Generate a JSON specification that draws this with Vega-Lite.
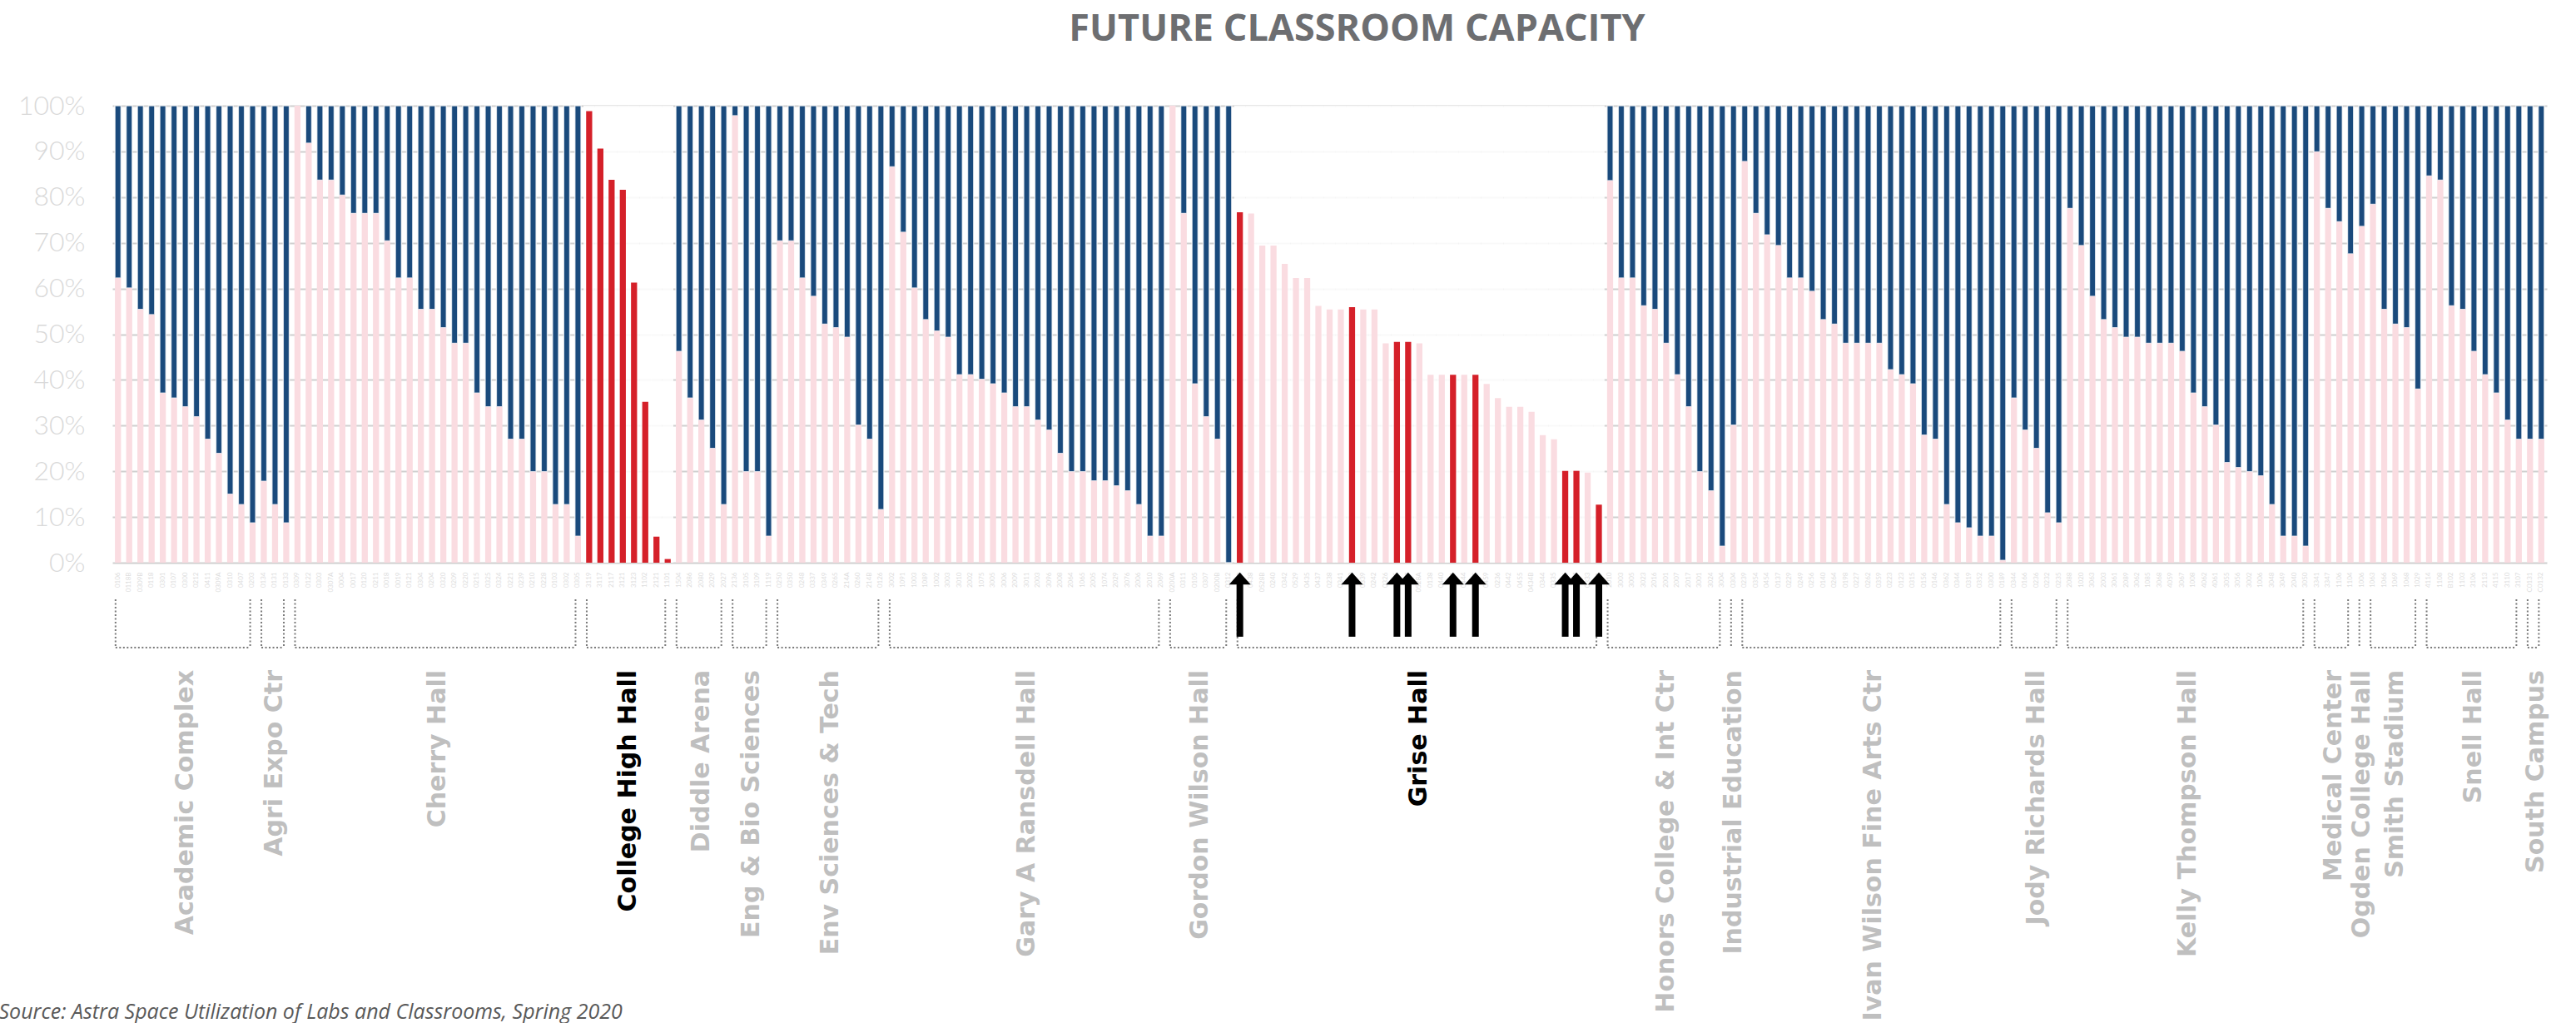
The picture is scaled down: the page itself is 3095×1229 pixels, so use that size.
{
 "$schema": "https://vega.github.io/schema/vega-lite/v6.json",
 "width": 2925,
 "height": 549,
 "autosize": {"type": "none"},
 "padding": {"left": 135, "top": 127, "right": 35, "bottom": 553},
 "background": "white",
 "config": {"view": {"stroke": null}},
 "title": {"text": "FUTURE CLASSROOM CAPACITY", "font": "Open Sans", "fontSize": 45, "fontWeight": "bold", "color": "#6D6E71", "anchor": "middle", "frame": "group", "dx": 33, "offset": 17, "baseline": "alphabetic"},
 "data": {"values": [
  {"b":"Academic Complex","r":"0106","v":0.623},{"b":"Academic Complex","r":"0118B","v":0.601},{"b":"Academic Complex","r":"0309B","v":0.554},{"b":"Academic Complex","r":"0118","v":0.543},{"b":"Academic Complex","r":"0301","v":0.371},{"b":"Academic Complex","r":"0107","v":0.36},{"b":"Academic Complex","r":"0300","v":0.341},{"b":"Academic Complex","r":"0212","v":0.319},{"b":"Academic Complex","r":"0411","v":0.27},{"b":"Academic Complex","r":"0309A","v":0.239},{"b":"Academic Complex","r":"0310","v":0.15},{"b":"Academic Complex","r":"0407","v":0.127},{"b":"Academic Complex","r":"0203","v":0.087},
  {"b":"Agri Expo Ctr","r":"0134","v":0.178},{"b":"Agri Expo Ctr","r":"0131","v":0.127},{"b":"Agri Expo Ctr","r":"0133","v":0.087},
  {"b":"Cherry Hall","r":"0309","v":1.0},{"b":"Cherry Hall","r":"0122","v":0.918},{"b":"Cherry Hall","r":"0303","v":0.837},{"b":"Cherry Hall","r":"0307A","v":0.837},{"b":"Cherry Hall","r":"0004","v":0.804},{"b":"Cherry Hall","r":"0017","v":0.764},{"b":"Cherry Hall","r":"0120","v":0.764},{"b":"Cherry Hall","r":"0211","v":0.764},{"b":"Cherry Hall","r":"0018","v":0.704},{"b":"Cherry Hall","r":"0019","v":0.623},{"b":"Cherry Hall","r":"0121","v":0.623},{"b":"Cherry Hall","r":"0304","v":0.554},{"b":"Cherry Hall","r":"0204","v":0.554},{"b":"Cherry Hall","r":"0320","v":0.514},{"b":"Cherry Hall","r":"0209","v":0.48},{"b":"Cherry Hall","r":"0220","v":0.48},{"b":"Cherry Hall","r":"0215","v":0.371},{"b":"Cherry Hall","r":"0325","v":0.341},{"b":"Cherry Hall","r":"0324","v":0.341},{"b":"Cherry Hall","r":"0221","v":0.27},{"b":"Cherry Hall","r":"0239","v":0.27},{"b":"Cherry Hall","r":"0210","v":0.199},{"b":"Cherry Hall","r":"0228","v":0.199},{"b":"Cherry Hall","r":"0103","v":0.127},{"b":"Cherry Hall","r":"0302","v":0.127},{"b":"Cherry Hall","r":"0305","v":0.058},
  {"b":"College High Hall","r":"3119","v":0.988},{"b":"College High Hall","r":"3117","v":0.906},{"b":"College High Hall","r":"2117","v":0.838},{"b":"College High Hall","r":"3121","v":0.816},{"b":"College High Hall","r":"3123","v":0.613},{"b":"College High Hall","r":"1102","v":0.352},{"b":"College High Hall","r":"2121","v":0.057},{"b":"College High Hall","r":"1101","v":0.008},
  {"b":"Diddle Arena","r":"1504","v":0.462},{"b":"Diddle Arena","r":"2086","v":0.36},{"b":"Diddle Arena","r":"2080","v":0.312},{"b":"Diddle Arena","r":"2029","v":0.25},{"b":"Diddle Arena","r":"2027","v":0.127},
  {"b":"Eng & Bio Sciences","r":"2136","v":0.978},{"b":"Eng & Bio Sciences","r":"3105","v":0.199},{"b":"Eng & Bio Sciences","r":"3109","v":0.199},{"b":"Eng & Bio Sciences","r":"1119","v":0.058},
  {"b":"Env Sciences & Tech","r":"0250","v":0.704},{"b":"Env Sciences & Tech","r":"0350","v":0.704},{"b":"Env Sciences & Tech","r":"0248","v":0.623},{"b":"Env Sciences & Tech","r":"0337","v":0.583},{"b":"Env Sciences & Tech","r":"0349","v":0.522},{"b":"Env Sciences & Tech","r":"0265","v":0.514},{"b":"Env Sciences & Tech","r":"214A","v":0.493},{"b":"Env Sciences & Tech","r":"0260","v":0.301},{"b":"Env Sciences & Tech","r":"214B","v":0.27},{"b":"Env Sciences & Tech","r":"0126","v":0.116},
  {"b":"Gary A Ransdell Hall","r":"3002","v":0.866},{"b":"Gary A Ransdell Hall","r":"1091","v":0.723},{"b":"Gary A Ransdell Hall","r":"1003","v":0.601},{"b":"Gary A Ransdell Hall","r":"1089","v":0.532},{"b":"Gary A Ransdell Hall","r":"1002","v":0.507},{"b":"Gary A Ransdell Hall","r":"3003","v":0.493},{"b":"Gary A Ransdell Hall","r":"3010","v":0.411},{"b":"Gary A Ransdell Hall","r":"2002","v":0.411},{"b":"Gary A Ransdell Hall","r":"1075","v":0.401},{"b":"Gary A Ransdell Hall","r":"3005","v":0.391},{"b":"Gary A Ransdell Hall","r":"3006","v":0.371},{"b":"Gary A Ransdell Hall","r":"2009","v":0.341},{"b":"Gary A Ransdell Hall","r":"3011","v":0.341},{"b":"Gary A Ransdell Hall","r":"2003","v":0.312},{"b":"Gary A Ransdell Hall","r":"3096","v":0.29},{"b":"Gary A Ransdell Hall","r":"2008","v":0.239},{"b":"Gary A Ransdell Hall","r":"2064","v":0.199},{"b":"Gary A Ransdell Hall","r":"1065","v":0.199},{"b":"Gary A Ransdell Hall","r":"2005","v":0.179},{"b":"Gary A Ransdell Hall","r":"1074","v":0.179},{"b":"Gary A Ransdell Hall","r":"2029","v":0.168},{"b":"Gary A Ransdell Hall","r":"3076","v":0.157},{"b":"Gary A Ransdell Hall","r":"2006","v":0.127},{"b":"Gary A Ransdell Hall","r":"2010","v":0.058},{"b":"Gary A Ransdell Hall","r":"2069","v":0.058},
  {"b":"Gordon Wilson Hall","r":"0200A","v":1.0},{"b":"Gordon Wilson Hall","r":"0311","v":0.764},{"b":"Gordon Wilson Hall","r":"0105","v":0.391},{"b":"Gordon Wilson Hall","r":"0307","v":0.319},{"b":"Gordon Wilson Hall","r":"0200B","v":0.27},{"b":"Gordon Wilson Hall","r":"0312","v":0.0},
  {"b":"Grise Hall","r":"0130","v":0.767,"f":1},{"b":"Grise Hall","r":"0438","v":0.764},{"b":"Grise Hall","r":"0528B","v":0.694},{"b":"Grise Hall","r":"0240","v":0.694},{"b":"Grise Hall","r":"0342","v":0.654},{"b":"Grise Hall","r":"0529","v":0.623},{"b":"Grise Hall","r":"0435","v":0.623},{"b":"Grise Hall","r":"0437","v":0.562},{"b":"Grise Hall","r":"0238","v":0.554},{"b":"Grise Hall","r":"0341","v":0.554},{"b":"Grise Hall","r":"0340","v":0.559,"f":1},{"b":"Grise Hall","r":"0339","v":0.554},{"b":"Grise Hall","r":"0242","v":0.554},{"b":"Grise Hall","r":"0326","v":0.48},{"b":"Grise Hall","r":"0325","v":0.483,"f":1},{"b":"Grise Hall","r":"0327","v":0.483,"f":1},{"b":"Grise Hall","r":"0528A","v":0.48},{"b":"Grise Hall","r":"0138","v":0.411},{"b":"Grise Hall","r":"0440","v":0.411},{"b":"Grise Hall","r":"0441","v":0.411,"f":1},{"b":"Grise Hall","r":"0444","v":0.411},{"b":"Grise Hall","r":"0445","v":0.411,"f":1},{"b":"Grise Hall","r":"0459","v":0.391},{"b":"Grise Hall","r":"0236","v":0.36},{"b":"Grise Hall","r":"0442","v":0.341},{"b":"Grise Hall","r":"0455","v":0.341},{"b":"Grise Hall","r":"0434B","v":0.33},{"b":"Grise Hall","r":"0344","v":0.279},{"b":"Grise Hall","r":"0335","v":0.27},{"b":"Grise Hall","r":"0336","v":0.201,"f":1},{"b":"Grise Hall","r":"0337","v":0.201,"f":1},{"b":"Grise Hall","r":"0333","v":0.197},{"b":"Grise Hall","r":"0331","v":0.127,"f":1},
  {"b":"Honors College & Int Ctr","r":"2010","v":0.836},{"b":"Honors College & Int Ctr","r":"3003","v":0.623},{"b":"Honors College & Int Ctr","r":"3005","v":0.623},{"b":"Honors College & Int Ctr","r":"3023","v":0.562},{"b":"Honors College & Int Ctr","r":"2016","v":0.554},{"b":"Honors College & Int Ctr","r":"2001","v":0.48},{"b":"Honors College & Int Ctr","r":"2007","v":0.411},{"b":"Honors College & Int Ctr","r":"2017","v":0.341},{"b":"Honors College & Int Ctr","r":"3001","v":0.199},{"b":"Honors College & Int Ctr","r":"3024","v":0.157},{"b":"Honors College & Int Ctr","r":"3004","v":0.036},
  {"b":"Industrial Education","r":"0304","v":0.301},
  {"b":"Ivan Wilson Fine Arts Ctr","r":"0239","v":0.878},{"b":"Ivan Wilson Fine Arts Ctr","r":"0354","v":0.764},{"b":"Ivan Wilson Fine Arts Ctr","r":"0454","v":0.717},{"b":"Ivan Wilson Fine Arts Ctr","r":"0137","v":0.694},{"b":"Ivan Wilson Fine Arts Ctr","r":"0229","v":0.623},{"b":"Ivan Wilson Fine Arts Ctr","r":"0249","v":0.623},{"b":"Ivan Wilson Fine Arts Ctr","r":"0256","v":0.594},{"b":"Ivan Wilson Fine Arts Ctr","r":"0140","v":0.532},{"b":"Ivan Wilson Fine Arts Ctr","r":"0264","v":0.522},{"b":"Ivan Wilson Fine Arts Ctr","r":"0198","v":0.48},{"b":"Ivan Wilson Fine Arts Ctr","r":"0227","v":0.48},{"b":"Ivan Wilson Fine Arts Ctr","r":"0262","v":0.48},{"b":"Ivan Wilson Fine Arts Ctr","r":"0359","v":0.48},{"b":"Ivan Wilson Fine Arts Ctr","r":"0223","v":0.422},{"b":"Ivan Wilson Fine Arts Ctr","r":"0123","v":0.411},{"b":"Ivan Wilson Fine Arts Ctr","r":"0315","v":0.391},{"b":"Ivan Wilson Fine Arts Ctr","r":"0156","v":0.279},{"b":"Ivan Wilson Fine Arts Ctr","r":"0146","v":0.27},{"b":"Ivan Wilson Fine Arts Ctr","r":"0362","v":0.127},{"b":"Ivan Wilson Fine Arts Ctr","r":"0344","v":0.087},{"b":"Ivan Wilson Fine Arts Ctr","r":"0319","v":0.076},{"b":"Ivan Wilson Fine Arts Ctr","r":"0352","v":0.058},{"b":"Ivan Wilson Fine Arts Ctr","r":"0300","v":0.058},{"b":"Ivan Wilson Fine Arts Ctr","r":"0189","v":0.005},
  {"b":"Jody Richards Hall","r":"0344","v":0.36},{"b":"Jody Richards Hall","r":"0166","v":0.29},{"b":"Jody Richards Hall","r":"0236","v":0.25},{"b":"Jody Richards Hall","r":"0232","v":0.109},{"b":"Jody Richards Hall","r":"0235","v":0.087},
  {"b":"Kelly Thompson Hall","r":"2088","v":0.775},{"b":"Kelly Thompson Hall","r":"1020","v":0.694},{"b":"Kelly Thompson Hall","r":"3063","v":0.583},{"b":"Kelly Thompson Hall","r":"2003","v":0.532},{"b":"Kelly Thompson Hall","r":"3061","v":0.514},{"b":"Kelly Thompson Hall","r":"2089","v":0.493},{"b":"Kelly Thompson Hall","r":"3062","v":0.493},{"b":"Kelly Thompson Hall","r":"1085","v":0.48},{"b":"Kelly Thompson Hall","r":"3068","v":0.48},{"b":"Kelly Thompson Hall","r":"4059","v":0.48},{"b":"Kelly Thompson Hall","r":"3067","v":0.462},{"b":"Kelly Thompson Hall","r":"1008","v":0.371},{"b":"Kelly Thompson Hall","r":"4062","v":0.341},{"b":"Kelly Thompson Hall","r":"4061","v":0.301},{"b":"Kelly Thompson Hall","r":"3055","v":0.219},{"b":"Kelly Thompson Hall","r":"3056","v":0.208},{"b":"Kelly Thompson Hall","r":"3002","v":0.199},{"b":"Kelly Thompson Hall","r":"1006","v":0.19},{"b":"Kelly Thompson Hall","r":"3048","v":0.127},{"b":"Kelly Thompson Hall","r":"3049","v":0.058},{"b":"Kelly Thompson Hall","r":"2040","v":0.058},{"b":"Kelly Thompson Hall","r":"3050","v":0.036},
  {"b":"Medical Center","r":"3341","v":0.899},{"b":"Medical Center","r":"3347","v":0.775},{"b":"Medical Center","r":"1106","v":0.746},{"b":"Medical Center","r":"1104","v":0.676},
  {"b":"Ogden College Hall","r":"1006","v":0.736},
  {"b":"Smith Stadium","r":"1063","v":0.784},{"b":"Smith Stadium","r":"1066","v":0.554},{"b":"Smith Stadium","r":"1069","v":0.522},{"b":"Smith Stadium","r":"1068","v":0.514},{"b":"Smith Stadium","r":"1029","v":0.38},
  {"b":"Snell Hall","r":"4114","v":0.846},{"b":"Snell Hall","r":"1108","v":0.837},{"b":"Snell Hall","r":"B102","v":0.562},{"b":"Snell Hall","r":"1103","v":0.554},{"b":"Snell Hall","r":"3106","v":0.462},{"b":"Snell Hall","r":"2113","v":0.411},{"b":"Snell Hall","r":"4115","v":0.371},{"b":"Snell Hall","r":"3110","v":0.312},{"b":"Snell Hall","r":"3107","v":0.27},
  {"b":"South Campus","r":"C0131","v":0.27},{"b":"South Campus","r":"C0132","v":0.27}
 ]},
 "transform": [
  {"window": [{"op": "row_number", "as": "i"}]},
  {"calculate": "(1000 + datum.i) + '|' + datum.r", "as": "key"},
  {"window": [{"op": "row_number", "as": "j"}, {"op": "count", "as": "n"}, {"op": "first_value", "field": "key", "as": "fk"}, {"op": "last_value", "field": "key", "as": "lk"}], "groupby": ["b"], "frame": [null, null]}
 ],
 "layer": [
  {
   "transform": [{"filter": "datum.b == 'College High Hall' || datum.b == 'Grise Hall'"}],
   "mark": {"type": "bar", "color": "white", "opacity": 0.88, "width": {"band": 1.87}},
   "encoding": {
    "x": {"field": "key", "type": "nominal", "scale": {"paddingInner": 0.46, "paddingOuter": 0.23}},
    "y": {"datum": 0, "type": "quantitative"},
    "y2": {"datum": 1}
   }
  },
  {
   "transform": [{"filter": "datum.b != 'College High Hall' && datum.b != 'Grise Hall' && datum.v < 1"}],
   "mark": {"type": "bar", "color": "#1A4A7C", "stroke": "#ffffff", "strokeWidth": 1.5, "strokeOpacity": 0.75},
   "encoding": {
    "x": {"field": "key", "type": "nominal"},
    "y": {"field": "v", "type": "quantitative"},
    "y2": {"datum": 1}
   }
  },
  {
   "mark": {"type": "bar"},
   "encoding": {
    "x": {"field": "key", "type": "nominal",
     "axis": {"title": "Source: Astra Space Utilization of Labs and Classrooms, Spring 2020", "titleFont": "Open Sans", "titleFontStyle": "italic", "titleFontWeight": "normal", "titleFontSize": 25, "titleColor": "#595959", "titleAnchor": "start", "titleAlign": "left", "titleBaseline": "alphabetic", "titleX": -137, "titleY": 547,
      "labelExpr": "split(datum.value, '|')[1]", "labelAngle": -90, "labelFontSize": 8, "labelColor": "#DDDDDD", "labelFont": "Lato", "labelPadding": 11, "labelOverlap": false, "ticks": false, "domain": false, "grid": false}},
    "y": {"field": "v", "type": "quantitative", "scale": {"domain": [0, 1], "nice": false, "zero": true},
     "axis": {"values": [0, 0.1, 0.2, 0.3, 0.4, 0.5, 0.6, 0.7, 0.8, 0.9, 1], "format": ".0%", "title": null, "domain": false, "ticks": false, "labelPadding": 33, "labelFontSize": 32, "labelFont": "Lato", "labelFontWeight": 300, "labelColor": "#D9D9D9", "grid": true, "gridColor": "#CFCFCF", "gridWidth": 2}},
    "color": {"condition": {"test": "datum.b == 'College High Hall' || datum.f == 1", "value": "#D52029"}, "value": "#FADCE1"}
   }
  },
  {
   "transform": [{"filter": "datum.j == 1"}],
   "mark": {"type": "rule", "color": "#7A7A7A", "strokeWidth": 2, "strokeDash": [2, 2.5]},
   "encoding": {
    "x": {"field": "fk", "type": "nominal", "bandPosition": 0.1},
    "x2": {"field": "lk", "bandPosition": 0.1},
    "y": {"datum": -0.186, "type": "quantitative"}
   }
  },
  {
   "transform": [{"filter": "datum.j == 1 || datum.j == datum.n"}],
   "mark": {"type": "rule", "color": "#7A7A7A", "strokeWidth": 2, "strokeDash": [2, 2.5]},
   "encoding": {
    "x": {"field": "key", "type": "nominal", "bandPosition": 0.1},
    "y": {"datum": -0.08, "type": "quantitative"},
    "y2": {"datum": -0.186}
   }
  },
  {
   "transform": [{"filter": "datum.n % 2 == 1 && datum.j == (datum.n + 1) / 2"}],
   "mark": {"type": "text", "font": "DejaVu Sans", "fontWeight": "bold", "fontSize": 30, "angle": 270, "align": "right", "baseline": "middle"},
   "encoding": {
    "x": {"field": "key", "type": "nominal", "bandPosition": 0.5},
    "y": {"datum": -0.235, "type": "quantitative"},
    "text": {"field": "b"},
    "color": {"condition": {"test": "datum.b == 'College High Hall' || datum.b == 'Grise Hall'", "value": "#000000"}, "value": "#BFBFBF"}
   }
  },
  {
   "transform": [{"filter": "datum.n % 2 == 0 && datum.j == datum.n / 2"}],
   "mark": {"type": "text", "font": "DejaVu Sans", "fontWeight": "bold", "fontSize": 30, "angle": 270, "align": "right", "baseline": "middle"},
   "encoding": {
    "x": {"field": "key", "type": "nominal", "bandPosition": 1.426},
    "y": {"datum": -0.235, "type": "quantitative"},
    "text": {"field": "b"},
    "color": {"condition": {"test": "datum.b == 'College High Hall' || datum.b == 'Grise Hall'", "value": "#000000"}, "value": "#BFBFBF"}
   }
  },
  {
   "transform": [{"filter": "datum.f == 1"}],
   "mark": {"type": "rule", "color": "#000000", "strokeWidth": 8},
   "encoding": {
    "x": {"field": "key", "type": "nominal"},
    "y": {"datum": -0.045, "type": "quantitative"},
    "y2": {"datum": -0.162}
   }
  },
  {
   "transform": [{"filter": "datum.f == 1"}],
   "mark": {"type": "point", "shape": "M-1,0.55L0,-0.55L1,0.55Z", "filled": true, "color": "#000000", "opacity": 1, "size": 676},
   "encoding": {
    "x": {"field": "key", "type": "nominal"},
    "y": {"datum": -0.0346, "type": "quantitative"}
   }
  }
 ]
}
